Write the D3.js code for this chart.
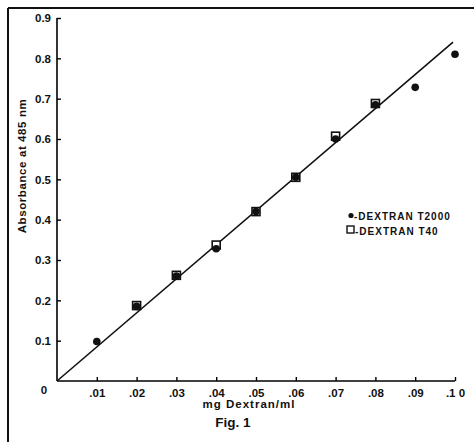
<!DOCTYPE html>
<html>
<head>
<meta charset="utf-8">
<script src="https://cdn.jsdelivr.net/npm/d3@7"></script>
<style>
body { margin: 0; background: #fff; }
text { font-family: "Liberation Sans", Arial, sans-serif; fill: #111; }
</style>
</head>
<body>
<div id="chart"></div>
<script>
var WIDTH = 474, HEIGHT = 442;

// data
var doseT2000 = [0.01, 0.02, 0.03, 0.04, 0.05, 0.06, 0.07, 0.08, 0.09, 0.10];
var absT2000 = [0.098, 0.185, 0.26, 0.328, 0.42, 0.505, 0.60, 0.685, 0.728, 0.81];
var doseT40 = [0.02, 0.03, 0.04, 0.05, 0.06, 0.07, 0.08];
var absT40 = [0.187, 0.262, 0.337, 0.42, 0.505, 0.607, 0.688];
var fitLine = [[0, 0], [0.0995, 0.84]];
var xTicks = [0.01, 0.02, 0.03, 0.04, 0.05, 0.06, 0.07, 0.08, 0.09, 0.10];
var xTickLabels = [".01", ".02", ".03", ".04", ".05", ".06", ".07", ".08", ".09", ".1 0"];
var yTicks = [0.1, 0.2, 0.3, 0.4, 0.5, 0.6, 0.7, 0.8, 0.9];

var SVG = d3.select("#chart").append("svg")
    .attr("width", WIDTH)
    .attr("height", HEIGHT);

// frame: top and left edges only
SVG.append("line").attr("x1", 8).attr("y1", 8).attr("x2", WIDTH).attr("y2", 8)
    .attr("stroke", "#111").attr("stroke-width", 2);
SVG.append("line").attr("x1", 8).attr("y1", 8).attr("x2", 8).attr("y2", HEIGHT)
    .attr("stroke", "#111").attr("stroke-width", 2);

var x = d3.scaleLinear().domain([0, 0.1]).range([57, 455]);
var y = d3.scaleLinear().domain([0, 0.9]).range([381, 18]);

var g = SVG.append("g");

// y axis, ticks pointing inward
var yAxis = g.append("g").attr("transform", "translate(" + x(0) + ",0)")
    .call(d3.axisLeft(y).tickValues(yTicks).tickSize(-4).tickPadding(6)
        .tickFormat(d3.format(".1f")));
yAxis.select(".domain").attr("d", "M0," + y(0) + "V" + y(0.9)).attr("stroke-width", 1.6);
yAxis.selectAll(".tick line").attr("stroke-width", 1.4);
yAxis.selectAll("text").style("font-size", "11.5px").style("font-weight", "bold")
    .attr("fill", "#111");

// x axis, ticks pointing up
var xAxis = g.append("g").attr("transform", "translate(0," + y(0) + ")")
    .call(d3.axisBottom(x).tickValues(xTicks).tickSize(-4).tickPadding(8)
        .tickFormat(function (d, i) { return xTickLabels[i]; }));
xAxis.select(".domain").attr("d", "M" + x(0) + ",0H" + x(0.1)).attr("stroke-width", 1.6);
xAxis.selectAll(".tick line").attr("stroke-width", 1.4);
xAxis.selectAll("text").style("font-size", "11.5px").style("font-weight", "bold")
    .attr("fill", "#111");

g.append("text").attr("x", 44).attr("y", 394).attr("text-anchor", "middle")
    .style("font-size", "11.5px").style("font-weight", "bold").text("0");

// fitted line
g.append("path").datum(fitLine)
    .attr("d", d3.line().x(function (d) { return x(d[0]); }).y(function (d) { return y(d[1]); }))
    .attr("stroke", "#111").attr("stroke-width", 1.6).attr("fill", "none");

// T40 open squares
g.selectAll(".sq").data(doseT40).enter().append("rect")
    .attr("x", function (d) { return x(d) - 4; })
    .attr("y", function (d, i) { return y(absT40[i]) - 4; })
    .attr("width", 8).attr("height", 8)
    .attr("fill", "#fff").attr("stroke", "#111").attr("stroke-width", 1.6);

// T2000 filled circles
g.selectAll(".dot").data(doseT2000).enter().append("circle")
    .attr("cx", function (d) { return x(d); })
    .attr("cy", function (d, i) { return y(absT2000[i]); })
    .attr("r", 3.8).attr("fill", "#111");

// legend
var legend = g.append("g");
legend.append("circle").attr("cx", 351).attr("cy", 215.5).attr("r", 2.6).attr("fill", "#111");
legend.append("text").attr("x", 354).attr("y", 219.5)
    .style("font-size", "10px").style("font-weight", "bold").style("letter-spacing", "1px")
    .text("-DEXTRAN T2000");
legend.append("rect").attr("x", 347).attr("y", 226).attr("width", 7).attr("height", 7)
    .attr("fill", "#fff").attr("stroke", "#111").attr("stroke-width", 1.4);
legend.append("text").attr("x", 355).attr("y", 234.5)
    .style("font-size", "10px").style("font-weight", "bold").style("letter-spacing", "1px")
    .text("-DEXTRAN T40");

// axis titles
g.append("text").attr("x", 249).attr("y", 408).attr("text-anchor", "middle")
    .style("font-size", "11.5px").style("letter-spacing", "1px").style("font-weight", "bold")
    .text("mg Dextran/ml");
g.append("text").attr("transform", "translate(26,166) rotate(-90)").attr("text-anchor", "middle")
    .style("font-size", "11.5px").style("letter-spacing", "0.6px").style("font-weight", "bold")
    .text("Absorbance at 485 nm");
g.append("text").attr("x", 233).attr("y", 427).attr("text-anchor", "middle")
    .style("font-size", "13.5px").style("font-weight", "bold")
    .text("Fig. 1");
</script>
</body>
</html>
